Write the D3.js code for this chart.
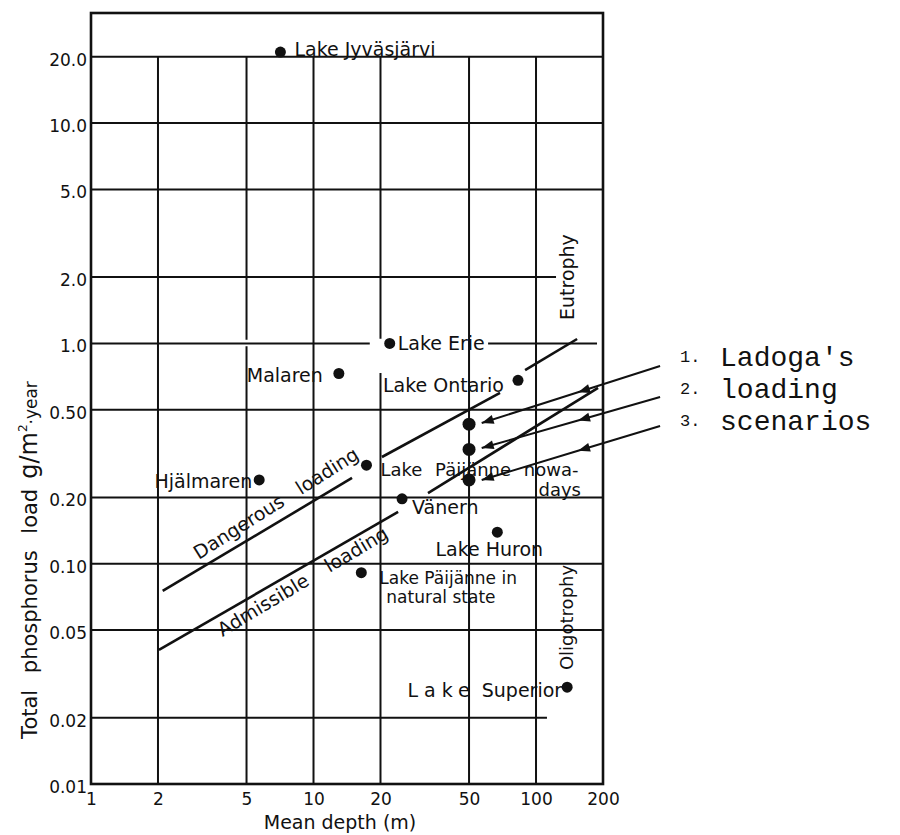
<!DOCTYPE html>
<html>
<head>
<meta charset="utf-8">
<script src="https://cdn.jsdelivr.net/npm/d3@7"></script>
<style>
body { margin: 0; background: #fff; }
svg text { font-family: "DejaVu Sans", sans-serif; fill: #111; }
svg text.mono { font-family: "Liberation Mono", "Courier New", monospace; }
</style>
</head>
<body>
<div id="chart"></div>
<script>
// axes
var xTicks = [1, 2, 5, 10, 20, 50, 100, 200];
var yTicks = [0.01, 0.02, 0.05, 0.1, 0.2, 0.5, 1, 2, 5, 10, 20];
var yTickLabels = ["0.01", "0.02", "0.05", "0.10", "0.20", "0.50", "1.0", "2.0", "5.0", "10.0", "20.0"];
var Y_TOP = 31.6;

// lakes: mean depth (m) and total P load (g/m2 year)
var lakeLabels = [["Lake Jyväsjärvi"], ["Malaren"], ["Lake Erie"], ["Lake Ontario"], ["Hjälmaren"],
  ["Lake Päijänne nowa-", "days"], ["Vänern"], ["Lake Huron"], ["Lake Päijänne in", "natural state"], ["Lake Superior"]];
var lakeDepth = [7.1, 13, 22, 83, 5.7, 17.3, 25, 67, 16.4, 138];
var lakeLoad = [21, 0.73, 1.0, 0.68, 0.24, 0.28, 0.197, 0.139, 0.091, 0.0275];

// Ladoga scenarios
var ladogaDepth = [50, 50, 50];
var ladogaLoad = [0.43, 0.33, 0.24];
var scenarioNums = ["1.", "2.", "3."];
var scenarioWords = ["Ladoga's", "loading", "scenarios"];
var arrowFrom = [[361, 0.789], [361, 0.571], [361, 0.422]];
var arrowTo = [[57, 0.435], [57, 0.335], [57, 0.24]];

// Vollenweider lines (segments, gaps around labels/dots)
var dangerousSegs = [[[2.1, 0.0752], [14.9, 0.245]], [[20.3, 0.305], [68.9, 0.596]], [[89.3, 0.757], [153, 1.047]]];
var admissibleSegs = [[[2.02, 0.0406], [24.0, 0.172]], [[32.7, 0.209], [190, 0.628]]];

// grid lines that are broken / shortened
var hGridSegs = { "2": [[1, 123]], "1": [[1, 17.9], [60.9, 188]], "0.02": [[1, 112]] };
var vGridSegs = { "20": [[0.01, 0.734], [1.05, 20]], "5": [[0.01, 0.97], [1.04, 20]] };

var lakeLayout = [
  {dx: 14, dy: 4, anchor: "start"},
  {dx: -16, dy: 9, anchor: "end"},
  {dx: 8, dy: 7, anchor: "start"},
  {dx: -14, dy: 12, anchor: "end"},
  {dx: -7, dy: 8, anchor: "end"},
  {dx: 14, dy: 11, anchor: "start", ws: 7, size: 18, dx2: 172, dy2: 31},
  {dx: 10, dy: 15, anchor: "start"},
  {dx: -8, dy: 24, anchor: "middle"},
  {dx: 18, dy: 11, anchor: "start", size: 17, dx2: 25, dy2: 30},
  {dx: -5, dy: 10, anchor: "end", spaced: true}
];

var svg = d3.select("#chart").append("svg").attr("width", 900).attr("height", 835);
var x = d3.scaleLog().domain([1, 200]).range([91, 603]);
var y = d3.scaleLog().domain([0.01, Y_TOP]).range([784, 13]);
var ink = "#111";

var grid = svg.append("g").attr("stroke", ink).attr("stroke-width", 2);
yTicks.slice(1).forEach(function(v) {
  (hGridSegs[String(v)] || [[1, 200]]).forEach(function(s) {
    grid.append("line").attr("x1", x(s[0])).attr("x2", x(s[1])).attr("y1", y(v)).attr("y2", y(v));
  });
});
xTicks.slice(1, -1).forEach(function(v) {
  (vGridSegs[String(v)] || [[0.01, 20]]).forEach(function(s) {
    grid.append("line").attr("x1", x(v)).attr("x2", x(v)).attr("y1", y(s[0])).attr("y2", y(s[1]));
  });
});

// frame
svg.append("rect").attr("x", x(1)).attr("y", y(Y_TOP))
  .attr("width", x(200) - x(1)).attr("height", y(0.01) - y(Y_TOP))
  .attr("fill", "none").attr("stroke", ink).attr("stroke-width", 2.6);

// tick labels
var yAxis = svg.append("g").attr("transform", "translate(" + (x(1) - 4) + ",0)")
  .call(d3.axisLeft(y).tickValues(yTicks).tickFormat(function(d, i) { return yTickLabels[i]; }).tickSize(0).tickPadding(0));
yAxis.select(".domain").remove();
yAxis.selectAll("text").attr("font-size", 17).attr("dy", "0.5em").attr("fill", ink);

var xAxis = svg.append("g").attr("transform", "translate(0," + y(0.01) + ")")
  .call(d3.axisBottom(x).tickValues(xTicks).tickFormat(d3.format("d")).tickSize(0).tickPadding(9));
xAxis.select(".domain").remove();
xAxis.selectAll("text").attr("font-size", 17).attr("fill", ink);

// axis titles
svg.append("text").attr("x", 340).attr("y", 829).attr("text-anchor", "middle")
  .attr("font-size", 19).text("Mean depth (m)");
var yt = svg.append("text").attr("transform", "translate(37,560) rotate(-90)")
  .attr("text-anchor", "middle").attr("font-size", 21);
yt.append("tspan").attr("word-spacing", 10).text("Total phosphorus load");
yt.append("tspan").attr("dx", 10).attr("font-size", 24).text("g/m");
yt.append("tspan").attr("dy", -10).attr("font-size", 12).text("2");
yt.append("tspan").attr("dy", 10).attr("font-size", 17).text("·year");

// loading lines
var lineGen = d3.line().x(function(d) { return x(d[0]); }).y(function(d) { return y(d[1]); });
svg.append("g").selectAll("path").data(dangerousSegs.concat(admissibleSegs)).enter().append("path")
  .attr("d", lineGen).attr("fill", "none").attr("stroke", ink).attr("stroke-width", 2.6);

function lineAngle(segs) {
  var a = segs[0][0], b = segs[segs.length - 1][1];
  return Math.atan2(y(b[1]) - y(a[1]), x(b[0]) - x(a[0])) * 180 / Math.PI;
}
svg.append("text").attr("transform", "translate(" + x(3.05) + "," + y(0.104) + ") rotate(" + (lineAngle(dangerousSegs) - 1) + ")")
  .attr("font-size", 19).attr("word-spacing", 12).text("Dangerous loading");
svg.append("text").attr("transform", "translate(" + x(3.9) + "," + y(0.0465) + ") rotate(" + lineAngle(admissibleSegs) + ")")
  .attr("font-size", 19).attr("word-spacing", 16).text("Admissible loading");

svg.append("text").attr("transform", "translate(" + x(138) + "," + y(2.0) + ") rotate(-90)")
  .attr("text-anchor", "middle").attr("dy", "0.35em").attr("font-size", 19).text("Eutrophy");
svg.append("text").attr("transform", "translate(" + x(138) + "," + y(0.057) + ") rotate(-90)")
  .attr("text-anchor", "middle").attr("dy", "0.35em").attr("font-size", 18).text("Oligotrophy");

// lakes
var lakes = lakeDepth.map(function(d, i) { return {depth: d, load: lakeLoad[i], name: lakeLabels[i], lay: lakeLayout[i]}; });
svg.append("g").selectAll("circle").data(lakes).enter().append("circle")
  .attr("cx", function(d) { return x(d.depth); }).attr("cy", function(d) { return y(d.load); })
  .attr("r", 5.5).attr("fill", ink);

lakes.forEach(function(d) {
  var px = x(d.depth), py = y(d.load), L = d.lay;
  var t = svg.append("text").attr("x", px + L.dx).attr("y", py + L.dy)
    .attr("text-anchor", L.anchor).attr("font-size", L.size || 19);
  if (L.ws) t.attr("word-spacing", L.ws);
  if (L.spaced) {
    var parts = d.name[0].split(" ");
    t.append("tspan").attr("letter-spacing", 6).text(parts[0]);
    t.append("tspan").text(" " + parts.slice(1).join(" "));
  } else {
    t.text(d.name[0]);
  }
  if (d.name.length > 1) {
    svg.append("text").attr("x", px + L.dx2).attr("y", py + L.dy2)
      .attr("text-anchor", "start").attr("font-size", L.size || 19).text(d.name[1]);
  }
});

// Ladoga scenario points
svg.append("g").selectAll("circle").data(ladogaDepth).enter().append("circle")
  .attr("cx", function(d) { return x(d); }).attr("cy", function(d, i) { return y(ladogaLoad[i]); })
  .attr("r", 6.5).attr("fill", ink);

// arrows
svg.append("defs").append("marker").attr("id", "head")
  .attr("viewBox", "0 -5 12 10").attr("refX", 12).attr("refY", 0)
  .attr("markerUnits", "userSpaceOnUse").attr("markerWidth", 14).attr("markerHeight", 10)
  .attr("orient", "auto")
  .append("path").attr("d", "M0,-4.5L12,0L0,4.5Z").attr("fill", ink);

var textTop = y(arrowFrom[0][1]);
arrowFrom.forEach(function(f, i) {
  var x0 = x(f[0]), y0 = y(f[1]), x1 = x(arrowTo[i][0]), y1 = y(arrowTo[i][1]);
  var mx = x0 + (x1 - x0) * 0.46, my = y0 + (y1 - y0) * 0.46;
  svg.append("polyline").attr("points", [x0, y0, mx, my, x1, y1].join(","))
    .attr("fill", "none").attr("stroke", ink).attr("stroke-width", 2)
    .attr("marker-mid", "url(#head)").attr("marker-end", "url(#head)");
  var base = textTop + i * 32;
  svg.append("text").attr("class", "mono").attr("x", x0 + 20).attr("y", base - 4)
    .attr("font-size", 17).text(scenarioNums[i]);
  svg.append("text").attr("class", "mono").attr("x", x0 + 60).attr("y", base)
    .attr("font-size", 28).text(scenarioWords[i]);
});
</script>
</body>
</html>
